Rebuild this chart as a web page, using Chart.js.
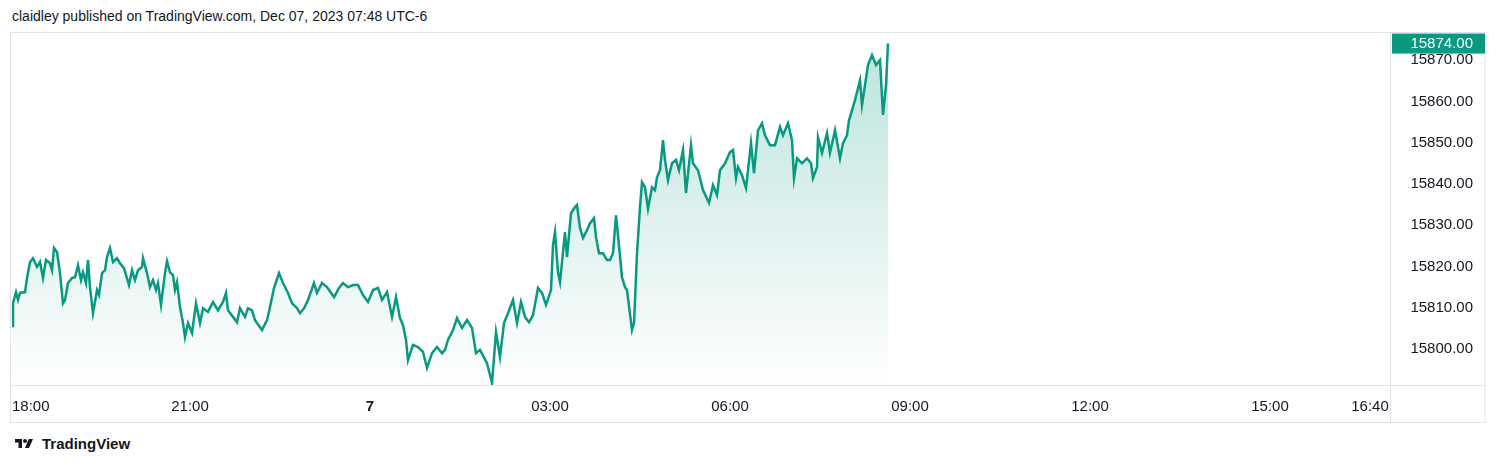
<!DOCTYPE html>
<html><head><meta charset="utf-8">
<script src="https://cdn.jsdelivr.net/npm/chart.js@4"></script>
<style>
html,body{margin:0;padding:0;background:#fff;width:1500px;height:466px;overflow:hidden;font-family:-apple-system,"Helvetica Neue","Liberation Sans",Arial,sans-serif;}
#hdr{position:absolute;left:12px;top:8px;font-size:14px;color:#131722;}
#wrap{position:absolute;left:0;top:32px;width:1486px;height:391px;}
#ftr{position:absolute;left:12px;top:435px;font-size:15px;font-weight:600;color:#131722;display:flex;align-items:center;gap:6px;}
</style></head><body>
<div id="hdr">claidley published on TradingView.com, Dec 07, 2023 07:48 UTC-6</div>
<div id="wrap"><canvas id="c"></canvas></div>
<div id="ftr"><svg width="24" height="14" viewBox="0 0 36 28"><path d="M14 22H7V11H0V4h14v18z" fill="#131722"/><circle cx="20" cy="8" r="4" fill="#131722"/><path d="M28 22h-8L27.5 4H36l-8 18z" fill="#131722"/></svg>TradingView</div>
<script>
const minutes=[3,3,6,8,10,15,17,20,23,27,30,33,36,40,42,44,47,50,53,55,58,62,65,68,71,73,76,78,80,83,87,89,92,95,97,100,103,107,110,114,119,122,125,128,132,133,137,140,143,146,148,151,155,157,160,163,165,167,170,173,175,178,182,184,186,190,193,198,203,208,213,216,218,223,227,230,235,238,242,245,252,257,260,264,269,273,278,282,287,290,294,298,304,307,312,317,324,329,333,338,343,348,353,358,363,368,372,377,382,386,390,393,396,398,403,408,413,417,422,427,432,435,438,443,447,
452,457,462,466,470,477,482,486,490,494,498,503,507,511,515,519,523,528,532,536,541,543,545,548,550,555,557,561,565,567,570,573,577,580,584,586,589,593,597,600,603,606,608,612,615,617,622,624,627,630,632,635,638,642,645,647,650,653,655,658,662,666,669,673,676,681,683,688,693,699,703,707,710,715,720,723,726,728,732,736,741,744,748,752,755,760,765,770,773,778,782,784,787,792,797,801,803,807,808,812,817,820,825,830,833,837,839,845,850,852,858,862,866,870,873,876,878];
const prices=[15805.3,15811.1,15813.8,15811.9,15813.6,15813.8,15817.2,15821.1,15822.0,15819.9,15821.1,15817.2,15821.6,15820.8,15819.1,15824.5,15823.5,15818.4,15811.1,15811.9,15816.0,15817.2,15817.4,15820.3,15816.7,15818.6,15816.0,15821.6,15815.0,15808.7,15814.3,15813.1,15818.4,15819.1,15822.3,15824.5,15821.1,15822.0,15820.8,15819.6,15815.5,15819.1,15816.7,15819.1,15819.9,15822.0,15818.4,15815.0,15816.7,15814.3,15816.0,15810.7,15818.4,15821.3,15818.6,15817.9,15814.3,15816.2,15810.2,15806.3,15802.9,15806.3,15803.9,15807.5,15811.1,15806.3,15809.9,15809.0,15811.4,15809.4,15811.4,15813.6,15809.4,15807.8,15806.5,15809.9,15807.8,15809.9,15809.4,15807.0,15804.6,15807.0,15810.2,15814.8,15818.4,15816.0,15813.6,15811.1,15809.9,15808.7,15809.9,15811.9,15816.0,15813.6,15816.0,15815.0,15812.6,15814.8,15816.0,15815.0,15815.5,15815.5,15813.1,15811.4,15814.3,15814.8,15811.9,15813.8,15807.8,15812.6,15807.5,15805.8,15802.2,15797.3,15801.0,15800.5,15799.3,15795.4,15799.0,15800.5,15799.0,15799.8,15802.2,15804.6,15807.5,
15805.1,15807.0,15805.1,15799.0,15799.8,15796.6,15791.8,15804.1,15798.1,15806.3,15808.7,15811.9,15806.3,15811.4,15807.8,15806.5,15808.2,15814.8,15813.6,15810.7,15814.3,15825.2,15828.3,15818.6,15816.2,15828.3,15822.3,15832.9,15834.4,15834.9,15829.3,15826.9,15828.8,15830.5,15831.7,15827.1,15823.2,15823.2,15821.6,15821.6,15823.2,15832.4,15827.6,15817.4,15815.0,15814.3,15804.6,15806.3,15823.2,15834.4,15840.4,15839.2,15834.0,15839.2,15838.5,15841.6,15843.3,15850.6,15845.8,15840.9,15845.0,15845.8,15843.3,15848.2,15837.8,15849.4,15845.0,15843.3,15838.5,15835.4,15839.7,15837.3,15843.3,15845.0,15847.7,15848.2,15841.4,15844.1,15842.1,15839.0,15849.9,15842.6,15853.0,15854.7,15851.8,15849.4,15849.4,15853.8,15851.8,15854.7,15850.6,15841.4,15846.2,15845.0,15846.2,15845.0,15841.4,15844.1,15851.3,15847.5,15852.3,15847.5,15853.0,15846.2,15849.9,15851.8,15855.4,15860.3,15865.1,15859.1,15868.8,15871.2,15868.8,15870.0,15856.7,15863.9,15874.0];
const tickMinutes=[0,180,360,540,720,900,1080,1260,1360];
const tickLabels=["18:00","21:00","7","03:00","06:00","09:00","12:00","15:00","16:40"];
const yTicks=[15800,15810,15820,15830,15840,15850,15860,15870];
const lastPrice=prices[prices.length-1];
const GREEN='#089981';
const pts=minutes.map((m,i)=>({x:m,y:prices[i]}));
const FONT='15px -apple-system,"Helvetica Neue","Liberation Sans",Arial,sans-serif';
const deco={id:'deco',afterDraw(ch){
 const c=ch.ctx,a=ch.chartArea,xs=ch.scales.x,ys=ch.scales.y;
 c.save();
 c.strokeStyle='#e0e3eb';c.lineWidth=1;
 c.strokeRect(a.left-1.5,0.5,ch.width-a.left+0.5,ch.height-1);
 c.beginPath();c.moveTo(a.right+0.5,0);c.lineTo(a.right+0.5,ch.height);c.moveTo(a.left-1.5,a.bottom+0.5);c.lineTo(ch.width,a.bottom+0.5);c.stroke();
 c.textBaseline='middle';
 tickMinutes.forEach((m,i)=>{let px=xs.getPixelForValue(m);c.fillStyle='#131722';
  c.font=(tickLabels[i]==='7'?'bold ':'')+FONT;
  c.textAlign=i===0?'left':'center'; if(i===0)px=a.left; c.fillText(tickLabels[i],px,a.bottom+22);});
 c.font=FONT;c.textAlign='right';
 yTicks.forEach(v=>{const py=ys.getPixelForValue(v);c.fillStyle='#131722';c.fillText(v.toFixed(2),a.right+83,py);});
 const ly=ys.getPixelForValue(lastPrice);
 c.fillStyle=GREEN;c.fillRect(a.right+2,ly-10,93,20);
 c.fillStyle='#fff';c.fillText(lastPrice.toFixed(2),a.right+83,ly+0.5);
 c.restore();}};
new Chart(document.getElementById('c'),{type:'line',
 data:{datasets:[{data:pts,borderColor:GREEN,borderWidth:2.5,pointRadius:0,tension:0,fill:'start',
  backgroundColor:(ctx)=>{const a=ctx.chart.chartArea;if(!a)return 'rgba(8,153,129,0.1)';const g=ctx.chart.ctx.createLinearGradient(0,a.top,0,a.bottom);g.addColorStop(0,'rgba(8,153,129,0.28)');g.addColorStop(1,'rgba(8,153,129,0.0)');return g;}}]},
 options:{responsive:true,maintainAspectRatio:false,animation:false,
  layout:{padding:{left:12,top:0,right:0,bottom:0}},
  plugins:{legend:{display:false},tooltip:{enabled:false}},
  scales:{x:{type:'linear',min:2,max:1380,ticks:{display:false},grid:{display:false},border:{display:false},afterFit(s){s.height=38;}},
   y:{position:'right',min:15791.3,max:15876.8,ticks:{display:false},grid:{display:false},border:{display:false},afterFit(s){s.width=96;}}}},
 plugins:[deco]});
</script></body></html>
